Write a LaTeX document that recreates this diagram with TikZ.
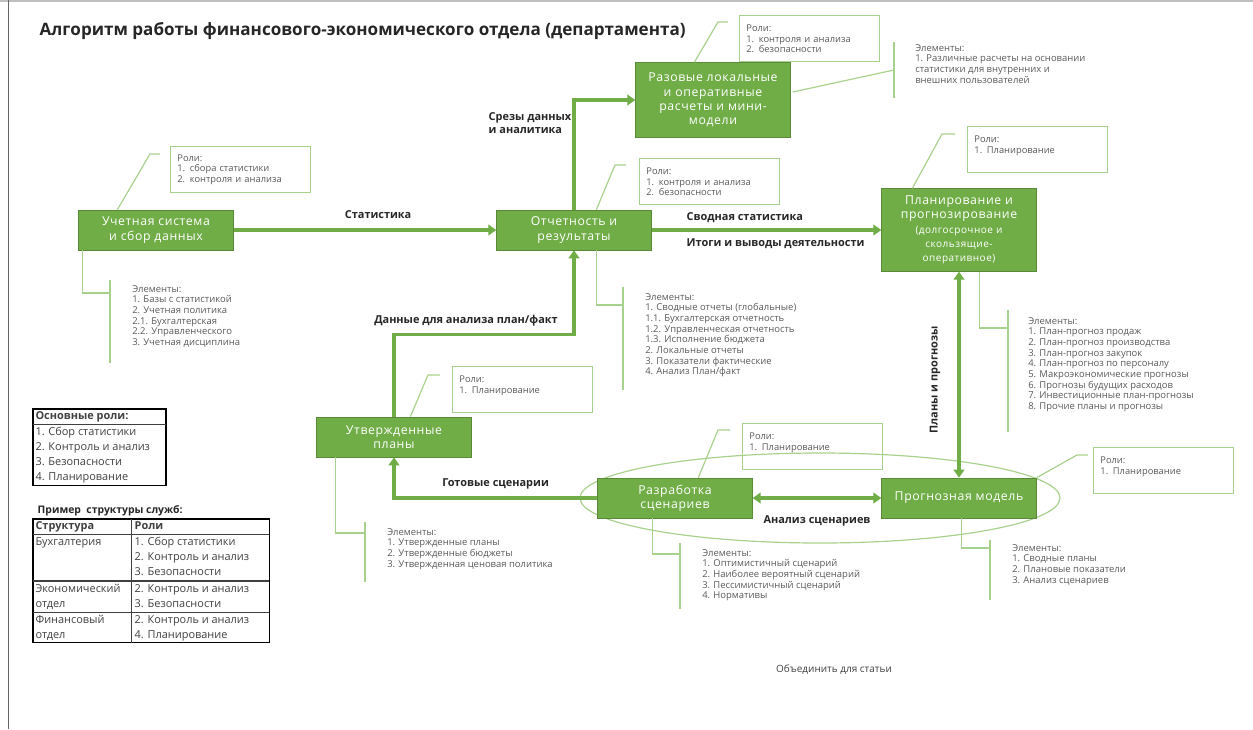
\documentclass[tikz,border=0pt]{standalone}
\usepackage{fontspec}
\setmainfont{Open Sans}
\newfontfamily\boxfont[LetterSpace=5]{Open Sans}
\usetikzlibrary{arrows.meta,calc}
\definecolor{grn}{HTML}{70AD47}
\definecolor{lgrn}{HTML}{A9D18E}
\definecolor{txt}{HTML}{595959}
\setlength{\arrayrulewidth}{0.8pt}

\begin{document}
\begin{tikzpicture}
        [x=0.75pt, y=-0.75pt,
        block/.style={rectangle, fill=grn, draw=grn!80!black, line width=0.5pt, text=white, align=center, minimum width=116pt, minimum height=30pt, inner sep=2pt, font=\boxfont\fontsize{9.2}{10.8}\selectfont},
        roles/.style={rectangle, draw=lgrn, line width=1.1pt, anchor=north west, align=left, text width=95pt, minimum height=34.5pt, inner xsep=5pt, inner ysep=3pt, text=txt, font=\fontsize{7}{8}\selectfont},
        elems/.style={anchor=north west, align=left, inner sep=0pt, text=txt, font=\fontsize{7.1}{8}\selectfont},
        leader/.style={lgrn, line width=0.9pt},
        flow/.style={grn, line width=2.3pt, -{Triangle[length=6pt,width=8pt]}},
        flowboth/.style={grn, line width=2.3pt, {Triangle[length=6pt,width=8pt]}-{Triangle[length=6pt,width=8pt]}},
        lbl/.style={font=\bfseries\fontsize{8.2}{10}\selectfont, text=black!85},
        tbl/.style={draw, line width=1.3pt, anchor=north west, inner sep=0pt, font=\fontsize{8.2}{9}\selectfont, text=black!75}]

        \useasboundingbox (0,0) rectangle (1253,729);
        % page edges
        \draw[black!25, line width=2pt] (0,1) -- (1253,1);
        \draw[black!60, line width=0.6pt] (8,0) -- (8,729);

        \node[font=\bfseries\fontsize{12.8}{15}\selectfont, anchor=west, text=black!85] (title) at (35,31) {Алгоритм работы финансового-экономического отдела (департамента)};

        % ellipse round the scenario part
        \draw[leader] (820,498) ellipse [x radius=240, y radius=45];

        % main blocks
        \node[block] (uchet) at (156,230) {Учетная система\\и сбор данных};
        \node[block] (otchet) at (574,230) {Отчетность и\\результаты};
        \node[block, minimum height=56pt] (razov) at (713,100) {Разовые локальные\\и оперативные\\расчеты и мини-\\модели};
        \node[block, minimum height=62pt] (plan) at (959,230) {Планирование и\\прогнозирование\\{\fontsize{7.5}{9}\selectfont(долгосрочное и}\\{\fontsize{7.5}{9}\selectfont скользящие-}\\{\fontsize{7.5}{9}\selectfont оперативное)}};
        \node[block] (utv) at (394,437) {Утвержденные\\планы};
        \node[block] (razrab) at (675,498) {Разработка\\сценариев};
        \node[block] (prognoz) at (959,498) {Прогнозная модель};

        % flows between blocks
        \draw[flow] (uchet) -- (otchet) node[lbl, pos=0.55, above=4pt] {Статистика};
        \draw[flow] (otchet.north) |- (razov.west);
        \node[lbl, align=left, anchor=north west] (srezy) at (484,108) {Срезы данных\\и аналитика};
        \draw[flow] (otchet) -- (plan);
        \node[lbl, anchor=west] (svodn) at (682,218) {Сводная статистика};
        \node[lbl, anchor=west] (itogi) at (682,244) {Итоги и выводы деятельности};
        \draw[flow] (utv.north) -- ++(0,-82) -| (otchet.south) node[lbl, pos=0.2, above=2pt] {Данные для анализа план/факт};
        \draw[flowboth] (plan) -- (prognoz);
        \node[lbl, rotate=90] (plany) at (935,380) {Планы и прогнозы};
        \draw[flowboth] (razrab) -- (prognoz) node[lbl, midway, below=9pt] {Анализ сценариев};
        \draw[flow] (razrab.west) -| (utv.south) node[lbl, pos=0.25, above=2pt] {Готовые сценарии};

        % roles
        \node[roles] (rUchet) at (170,146) {Роли:\\1. сбора статистики\\2. контроля и анализа};
        \node[roles] (rRazov) at (739,15) {Роли:\\1. контроля и анализа\\2. безопасности};
        \node[roles] (rOtchet) at (639,158) {Роли:\\1. контроля и анализа\\2. безопасности};
        \node[roles] (rPlan) at (967,126) {Роли:\\1. Планирование\\~};
        \node[roles] (rUtv) at (452,366) {Роли:\\1. Планирование\\~};
        \node[roles] (rRazrab) at (742,423) {Роли:\\1. Планирование\\~};
        \node[roles] (rProgn) at (1093,447) {Роли:\\1. Планирование\\~};

        \draw[leader] ($(uchet.north west)+(39,0)$) -- ($(rUchet.north west)+(-20,8)$) -- ($(rUchet.north west)+(-10,8)$);
        \draw[leader] ($(razov.north west)+(59,0)$) -- ($(rRazov.north west)+(-21,7)$) -- ($(rRazov.north west)+(-11,7)$);
        \draw[leader] ($(otchet.north west)+(100,0)$) -- ($(rOtchet.north west)+(-24,7)$) -- ($(rOtchet.north west)+(-13,7)$);
        \draw[leader] ($(plan.north west)+(31,0)$) -- ($(rPlan.north west)+(-25,8)$) -- ($(rPlan.north west)+(-12,8)$);
        \draw[leader] ($(utv.north west)+(94,0)$) -- ($(rUtv.north west)+(-24,9)$) -- ($(rUtv.north west)+(-12,9)$);
        \draw[leader] ($(razrab.north west)+(101,0)$) -- ($(rRazrab.north west)+(-24,7)$) -- ($(rRazrab.north west)+(-12,7)$);
        \draw[leader] (prognoz.north east) -- ($(rProgn.north west)+(-16,8)$) -- ($(rProgn.north west)+(-5,8)$);

        % elements
        \node[elems] (eUchet) at (132,285) {Элементы:\\1. Базы с статистикой\\2. Учетная политика\\2.1. Бухгалтерская\\2.2. Управленческого\\3. Учетная дисциплина};
        \node[elems] (eRazov) at (915,44) {Элементы:\\1. Различные расчеты на основании\\статистики для внутренних и\\внешних пользователей};
        \node[elems] (eOtchet) at (645,293) {Элементы:\\1. Сводные отчеты (глобальные)\\1.1. Бухгалтерская отчетность\\1.2. Управленческая отчетность\\1.3. Исполнение бюджета\\2. Локальные отчеты\\3. Показатели фактические\\4. Анализ План/факт};
        \node[elems] (ePlan) at (1028,317) {Элементы:\\1. План-прогноз продаж\\2. План-прогноз производства\\3. План-прогноз закупок\\4. План-прогноз по персоналу\\5. Макроэкономические прогнозы\\6. Прогнозы будущих расходов\\7. Инвестиционные план-прогнозы\\8. Прочие планы и прогнозы};
        \node[elems] (eUtv) at (387,528) {Элементы:\\1. Утвержденные планы\\2. Утвержденные бюджеты\\3. Утвержденная ценовая политика};
        \node[elems] (eRazrab) at (702,549) {Элементы:\\1. Оптимистичный сценарий\\2. Наиболее вероятный сценарий\\3. Пессимистичный сценарий\\4. Нормативы};
        \node[elems] (eProgn) at (1012,544) {Элементы:\\1. Сводные планы\\2. Плановые показатели\\3. Анализ сценариев};

        \draw[leader] ($(uchet.south west)+(4,0)$) |- ($(eUchet.north west)+(-22,8)$);
        \draw[leader] ($(eUchet.north west)+(-22,-5)$) -- ($(eUchet.north west)+(-22,78)$);
        \draw[leader] ($(razov.east)+(2,-8)$) -- ($(eRazov.north west)+(-21,26)$);
        \draw[leader] ($(eRazov.north west)+(-21,-2)$) -- ($(eRazov.north west)+(-21,54)$);
        \draw[leader] ($(otchet.south west)+(100,0)$) |- ($(eOtchet.north west)+(-22,12)$);
        \draw[leader] ($(eOtchet.north west)+(-22,-6)$) -- ($(eOtchet.north west)+(-22,97)$);
        \draw[leader] ($(plan.south west)+(98,0)$) |- ($(ePlan.north west)+(-20,11)$);
        \draw[leader] ($(ePlan.north west)+(-20,-7)$) -- ($(ePlan.north west)+(-20,115)$);
        \draw[leader] ($(utv.south west)+(19,0)$) |- ($(eUtv.north west)+(-22,5)$);
        \draw[leader] ($(eUtv.north west)+(-22,-6)$) -- ($(eUtv.north west)+(-22,54)$);
        \draw[leader] ($(razrab.south west)+(55,0)$) |- ($(eRazrab.north west)+(-22,5)$);
        \draw[leader] ($(eRazrab.north west)+(-22,-6)$) -- ($(eRazrab.north west)+(-22,60)$);
        \draw[leader] ($(prognoz.south west)+(80,0)$) |- ($(eProgn.north west)+(-22,4)$);
        \draw[leader] ($(eProgn.north west)+(-22,-4)$) -- ($(eProgn.north west)+(-22,56)$);

        % legend tables
        \node[tbl] (osnRoli) at (32,408) {\renewcommand{\arraystretch}{1.25}\begin{tabular}{@{\hspace{2pt}}p{98pt}@{}}\textbf{Основные роли:}\\\noalign{\hrule height 1.2pt}1. Сбор статистики\\2. Контроль и анализ\\3. Безопасности\\4. Планирование\end{tabular}};

        \node[font=\bfseries\fontsize{7.8}{9}\selectfont, anchor=west, text=black!85] (primer) at (33,511) {Пример\ \ структуры служб:};
        \node[tbl] (struktura) at (32,518) {\renewcommand{\arraystretch}{1.25}\begin{tabular}{@{\hspace{2pt}}p{66pt}|@{\hspace{2pt}}p{101pt}@{}}\textbf{Структура} & \textbf{Роли}\\\noalign{\hrule height 1.2pt}Бухгалтерия & 1. Сбор статистики\\ & 2. Контроль и анализ\\ & 3. Безопасности\\\hline Экономический & 2. Контроль и анализ\\ отдел & 3. Безопасности\\\hline Финансовый & 2. Контроль и анализ\\ отдел & 4. Планирование\end{tabular}};

        \node[font=\fontsize{7.5}{9}\selectfont, text=black!75] (note) at (834,670) {Объединить для статьи};

    \end{tikzpicture}
\end{document}
